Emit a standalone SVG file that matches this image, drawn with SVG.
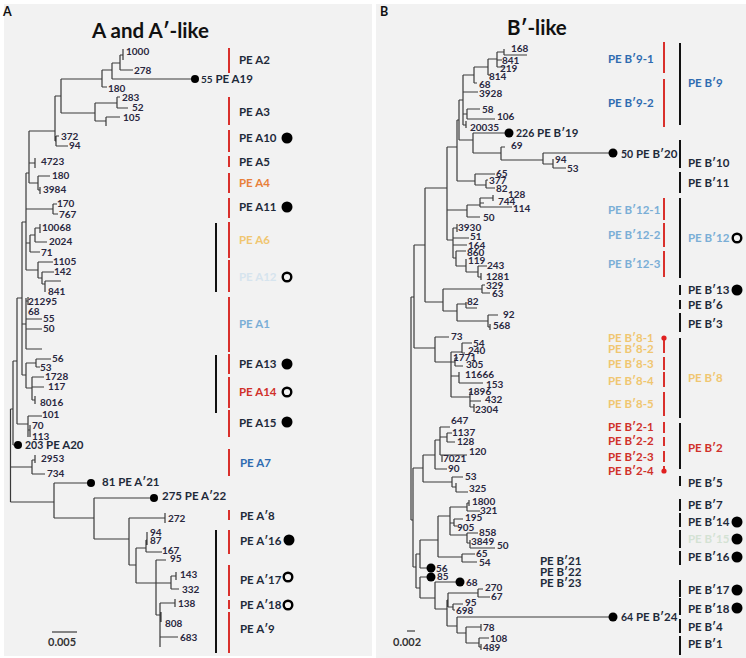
<svg xmlns="http://www.w3.org/2000/svg" width="746" height="658" viewBox="0 0 746 658">
<style>
.bg{fill:#f2f2f2}
.br{fill:none;stroke:#3a3a3a;stroke-width:1.2}
.rb{stroke:#d9302c;stroke-width:2}
.kb{stroke:#111;stroke-width:2}
text{font-family:Lato,"Open Sans","Liberation Sans",sans-serif;font-weight:bold}
.n{font-size:10px;fill:#2a2840}
.l{font-size:11.5px;fill:#1e2a3a}
.t{font-size:20.5px;fill:#111}
.p{font-size:12.5px;fill:#111}
.dot{fill:#000}
.oc{fill:none;stroke:#000;stroke-width:2.4}
.yel{fill:#f0c670}.org{fill:#e8803a}.red{fill:#d0302a}.blu{fill:#2e6bb0}.lbl{fill:#7aaed6}.pbl{fill:#d6e4ee}.pgr{fill:#d4e2d4}
</style>
<rect width="746" height="658" fill="#fff"/>
<rect class="bg" x="4" y="4" width="368" height="652"/>
<rect class="bg" x="376" y="4" width="370" height="654"/>
<text class="p" x="3" y="16">A</text>
<text class="p" x="380" y="16">B</text>
<text class="t" x="92" y="38">A and A′-like</text>
<text class="t" x="507" y="35">B′-like</text>

<g id="connectors-A" class="br">
<path d="M120,55V70M120,55H123M123,49V60M120,70H133M112,63V79M112,63H120M112,79H195M102,70V87M102,70H112M102,87H107M117,97V108M117,97H120M117,108H128M106,117V126M106,117H120M95,103V121M95,103H117M95,121H106M61,79V113M61,79H102M61,113H95M55,96V141M55,96H61M55,141H56M56,136V146M56,136H59M56,146H68"/>
<path d="M29,131V183M29,131H55M29,163H35M35,158V168M29,183H38M38,176V190M38,176H50M38,190H40M40,187V194M26,173V270M26,173H29M26,209H53M53,204V214M53,204H57M53,214H58M26,243H30M30,235V252M30,235H35M35,228V242M35,228H40M40,224V233M35,242H47M30,252H40M26,270H38M38,262V278M38,262H53M38,278H42M42,272V284M42,272H54M42,284H45M45,281V292M45,281H61"/>
<path d="M22,222V375M22,222H26M22,324H26M26,298V349M26,301H28M28,297V305M26,319H42M26,329H42M26,349H42M22,375H26M26,363V388M26,363H36M36,359V367M36,359H51M36,367H40M26,388H32M32,377V400M32,377H44M32,387H44M32,400H35M35,396V404"/>
<path d="M17,298V424M17,298H22M17,424H28M28,416V437M28,416H42M28,430H30M30,425V437M13,361V445M13,361H17M13,445H18M10.5,409V502M10.5,409H13M10.5,467H32M10.5,502H54M32,460V474M32,460H35M35,455V463M32,474H45"/>
<path d="M54,483V518M54,483H91M54,518H94M94,498V539M94,498H154M94,539H129M129,518V565M129,518H165M165,513V523M129,565H136M136,548V583M136,548H146M146,540V552M146,540H147M147,532V545M146,552H162M136,583H156M156,560V615M156,560H166M156,583H171M171,576V589M171,576H176M176,572V580M171,589H179M156,615H160M160,603V647M160,603H175M175,599V607M161,612V622M160,637H178"/>
<path d="M52,632H77"/>
</g>
<g id="dots-A">
<circle class="dot" cx="195" cy="79" r="4"/><circle class="dot" cx="18" cy="445" r="4"/><circle class="dot" cx="91" cy="483" r="4"/><circle class="dot" cx="154" cy="498" r="4"/>
</g>
<g id="leaves-A" class="n">
<text x="126" y="55">1000</text><text x="134" y="74">278</text><text x="108" y="92">180</text><text x="122" y="101">283</text><text x="132" y="111">52</text><text x="123" y="121">105</text>
<text x="61" y="140">372</text><text x="69" y="149">94</text><text x="41" y="165">4723</text><text x="52" y="179">180</text><text x="43" y="193">3984</text><text x="57" y="207">170</text><text x="59" y="218">767</text>
<text x="42" y="231">10068</text><text x="49" y="245">2024</text><text x="41" y="256">71</text><text x="53" y="265">1105</text><text x="54" y="275">142</text><text x="48" y="295">841</text>
<text x="28" y="305">21295</text><text x="28" y="315">68</text><text x="43" y="322">55</text><text x="43" y="332">50</text><text x="52" y="362">56</text><text x="40" y="371">53</text>
<text x="45" y="380">1728</text><text x="48" y="390">117</text><text x="40" y="406">8016</text><text x="42" y="418">101</text><text x="32" y="429">70</text><text x="32" y="440">113</text>
<text x="41" y="462">2953</text><text x="47" y="477">734</text><text x="168" y="522">272</text><text x="150" y="536">94</text><text x="150" y="544">87</text><text x="162" y="554">167</text>
<text x="170" y="562">95</text><text x="180" y="578">143</text><text x="182" y="593">332</text><text x="178" y="607">138</text><text x="165" y="627">808</text><text x="180" y="641">683</text>
<text x="48" y="646" style="font-size:11px;fill:#333">0.005</text>
</g>
<g id="A19"><text class="l" x="201" y="83"><tspan style="font-size:10px">55</tspan> PE A19</text></g>
<g id="A20"><text class="l" x="25" y="449"><tspan style="font-size:10.5px">203</tspan>  PE A20</text></g>
<g id="A21"><text class="l" x="102" y="486">81 PE A′21</text></g>
<g id="A22"><text class="l" x="162" y="500">275 PE A′22</text></g>

<g id="bars-A">
<path class="rb" d="M229,48V73M229,97V125M229,130V152M229,156V167M229,173V193M229,198V218M229,222V258M229,260V292M229,297V352M229,354V374M229,377V408M229,410V437M229,449V476M229,510V520M229,530V554M229,565V596M229,600V609M229,612V653"/>
<path class="kb" d="M216,223V292M216,355V413M216,530V653"/>
</g>
<g id="A2"><text class="l" x="239" y="64">PE A2</text></g>
<g id="A3"><text class="l" x="239" y="116">PE A3</text></g>
<g id="A10"><text class="l" x="239" y="142">PE A10</text><circle class="dot" cx="287" cy="138" r="5.5"/></g>
<g id="A5"><text class="l" x="239" y="166">PE A5</text></g>
<g id="A4"><text class="l org" x="239" y="187">PE A4</text></g>
<g id="A11"><text class="l" x="239" y="211">PE A11</text><circle class="dot" cx="287" cy="207" r="5.5"/></g>
<g id="A6"><text class="l yel" x="239" y="244">PE A6</text></g>
<g id="A12"><text class="l pbl" x="239" y="281">PE A12</text><circle class="oc" cx="287" cy="277" r="4.3"/></g>
<g id="A1"><text class="l lbl" x="239" y="328">PE A1</text></g>
<g id="A13"><text class="l" x="239" y="368">PE A13</text><circle class="dot" cx="287" cy="364" r="5.5"/></g>
<g id="A14"><text class="l red" x="239" y="396">PE A14</text><circle class="oc" cx="287" cy="392" r="4.3"/></g>
<g id="A15"><text class="l" x="239" y="427">PE A15</text><circle class="dot" cx="287" cy="422" r="5.5"/></g>
<g id="A7"><text class="l blu" x="240" y="467">PE A7</text></g>
<g id="A8"><text class="l" x="240" y="520">PE A′8</text></g>
<g id="A16"><text class="l" x="240" y="545">PE A′16</text><circle class="dot" cx="289" cy="540" r="5.5"/></g>
<g id="A17"><text class="l" x="240" y="584">PE A′17</text><circle class="oc" cx="288" cy="577" r="4.3"/></g>
<g id="A18"><text class="l" x="240" y="609">PE A′18</text><circle class="oc" cx="288" cy="605" r="4.3"/></g>
<g id="A9"><text class="l" x="240" y="633">PE A′9</text></g>

<g id="connectors-B" class="br">
<path d="M497,52V67M497,52H504M504,49V55M504,55H527M497,60H502M497,67H505M488,59V75M488,59H497M488,75H490M474,67V83M474,67H488M474,83H477M463,75V125M463,75H474M463,92H478M463,114H467M467,109V119M467,109H480M467,119H495M463,125H466M466,121V128M459,100V140M459,100H463M459,140H473"/>
<path d="M473,133V153M473,133H509M473,153H501M501,147V160M501,147H505M501,160H543M543,153V164M543,153H613M543,164H553M553,159V168M553,168H566"/>
<path d="M457,120V181M457,120H459M457,181H475M475,174V185M475,174H495M475,185H486M486,180V188M486,180H488M486,188H495M447,147V240M447,147H457M447,210H467M467,205V217M467,205H480M480,198V207M480,198H493M493,195V201M480,203H484M480,207H512M467,217H480"/>
<path d="M447,240H453M453,228V258M453,228H457M457,224V232M453,238H469M453,245H467M453,258H456M456,251V266M456,251H466M456,266H466M466,259V272M466,272H478M478,266V277M478,266H487M478,277H481M481,273V280"/>
<path d="M425,188V302M425,188H447M425,302H443M443,289V311M443,289H482M482,285V293M482,285H485M482,293H490M443,311H457M457,304V321M457,304H466M466,302V308M466,308H477M457,321H488M488,315V327M488,315H498M488,327H490M490,324V330"/>
<path d="M414,245V348M414,245H425M414,348H435M435,337V362M435,337H449M435,362H451M451,352V397M451,352H462M462,343V353M462,343H472M462,353H465M451,362H455M455,358V366M455,358H458M455,366H463M451,376H459M459,372V383M459,383H483M451,397H470M470,392V407M470,392H472M470,401H481M470,407H474M474,404V412"/>
<path d="M411,297V520M411,297H414M411,520H413M413,468V567M413,468H423M413,567H416M423,455V482M423,455H435M435,440V469M435,440H440M440,427V455M440,427H450M440,437H447M447,433V442M447,433H452M447,442H455M440,455H467M442,455V462M435,469H447M423,482H452M452,477V487M452,477H463M452,487H456M456,483V492M456,492H468"/>
<path d="M416,554V588M416,554H420M416,588H420M420,540V568M420,540H438M420,568H431M420,577V598M420,577H431M420,598H435"/>
<path d="M438,516V557M438,516H450M450,507V535M450,507H467M467,503V511M467,503H469M469,500V506M467,511H480M450,523H454M454,519V526M454,519H463M454,526H457M450,535H467M467,533V543M467,533H478M467,543H470M470,540V548M470,548H495M438,557H462M462,554V562M462,554H475M462,562H477"/>
<path d="M435,582V609M435,582H460M435,609H447M447,600V626M447,600H448M448,593V607M448,593H478M478,589V597M478,589H483M478,597H490M448,607H453M453,604V610M453,604H463M453,610H455M447,626H457M457,617V633M457,617H613M457,633H466M466,627V643M466,627H481M481,624V631M466,643H479M479,638V647M479,638H489M479,647H481M481,644V650"/>
<path d="M407,631H415"/>
</g>
<g id="dots-B">
<circle class="dot" cx="509" cy="133" r="4.5"/><circle class="dot" cx="613" cy="153" r="4.5"/><circle class="dot" cx="431" cy="568" r="4.5"/><circle class="dot" cx="431" cy="577" r="4.5"/><circle class="dot" cx="460" cy="582" r="4.5"/><circle class="dot" cx="613" cy="617" r="4.5"/>
</g>
<g id="leaves-B" class="n">
<text x="511" y="52">168</text><text x="502" y="64">841</text><text x="500" y="72">219</text><text x="489" y="80">814</text><text x="479" y="88">68</text><text x="479" y="97">3928</text>
<text x="482" y="113">58</text><text x="497" y="120">106</text><text x="470" y="131">20035</text><text x="511" y="149">69</text><text x="555" y="163">94</text><text x="567" y="172">53</text>
<text x="496" y="177">65</text><text x="489" y="184">377</text><text x="496" y="192">82</text><text x="508" y="198">128</text><text x="498" y="205">744</text><text x="513" y="212">114</text><text x="483" y="221">50</text>
<text x="458" y="231">3930</text><text x="470" y="240">51</text><text x="468" y="249">164</text><text x="467" y="256">860</text><text x="468" y="264">119</text><text x="487" y="269">243</text><text x="486" y="280">1281</text>
<text x="486" y="289">329</text><text x="492" y="297">63</text><text x="467" y="305">82</text><text x="503" y="318">92</text><text x="493" y="329">568</text>
<text x="451" y="340">73</text><text x="473" y="347">54</text><text x="468" y="354">240</text><text x="453" y="361">1771</text><text x="466" y="368">305</text><text x="465" y="378">11666</text><text x="486" y="388">153</text>
<text x="468" y="395">1896</text><text x="485" y="403">432</text><text x="475" y="413">2304</text>
<text x="451" y="424">647</text><text x="452" y="436">1137</text><text x="457" y="445">128</text><text x="469" y="455">120</text><text x="443" y="462">7021</text><text x="448" y="472">90</text><text x="465" y="480">53</text><text x="469" y="492">325</text>
<text x="472" y="505">1800</text><text x="480" y="514">321</text><text x="465" y="521">195</text><text x="457" y="531">905</text><text x="479" y="536">858</text><text x="471" y="545">3849</text><text x="497" y="549">50</text>
<text x="476" y="557">65</text><text x="479" y="566">54</text><text x="436" y="572">56</text><text x="437" y="580">85</text><text x="466" y="586">68</text><text x="485" y="591">270</text><text x="491" y="600">67</text>
<text x="465" y="606">95</text><text x="456" y="614">698</text><text x="483" y="631">78</text><text x="490" y="642">108</text><text x="483" y="651">489</text>
<text x="393" y="646" style="font-size:11px;fill:#333">0.002</text>
</g>
<g id="B19"><text class="l" x="516" y="137"><tspan style="font-size:10.5px">226</tspan> PE B′19</text></g>
<g id="B20"><text class="l" x="621" y="158"><tspan style="font-size:10.5px">50</tspan> PE B′20</text></g>
<g id="B24"><text class="l" x="621" y="621"><tspan style="font-size:10.5px">64</tspan> PE B′24</text></g>
<g id="B21-23" class="l"><text x="540" y="565">PE B′21</text><text x="540" y="576">PE B′22</text><text x="540" y="587">PE B′23</text></g>

<g id="bars-B">
<path class="rb" d="M664,42V73M664,79V127M664,198V220M664,223V247M664,251V277M664,338V353M664,357V370M664,372V387M664,392V416M664,422V433M664,437V446M664,451V462M664,466V471"/>
<circle cx="664" cy="338" r="2.6" fill="#e02020"/><circle cx="664" cy="471" r="2.6" fill="#e02020"/>
<path class="kb" d="M680,43V125M680,140V168M680,172V193M680,198V278M680,285V295M680,300V309M680,313V332M680,338V418M680,423V469M680,476V486M680,499V511M680,513V527M680,530V548M680,551V565M680,580V597M680,598V615M680,619V633M680,636V655"/>
</g>
<g id="B9-1"><text class="l blu" x="608" y="63">PE B′9-1</text></g>
<g id="B9-2"><text class="l blu" x="608" y="107">PE B′9-2</text></g>
<g id="B9"><text class="l blu" x="688" y="87">PE B′9</text></g>
<g id="B10"><text class="l" x="688" y="167">PE B′10</text></g>
<g id="B11"><text class="l" x="688" y="187">PE B′11</text></g>
<g id="B12-1"><text class="l lbl" x="608" y="214">PE B′12-1</text></g>
<g id="B12-2"><text class="l lbl" x="608" y="239">PE B′12-2</text></g>
<g id="B12-3"><text class="l lbl" x="608" y="268">PE B′12-3</text></g>
<g id="B12"><text class="l lbl" x="688" y="242">PE B′12</text><circle class="oc" cx="737" cy="238" r="4.3"/></g>
<g id="B13"><text class="l" x="688" y="294">PE B′13</text><circle class="dot" cx="737" cy="290" r="5.5"/></g>
<g id="B6"><text class="l" x="688" y="309">PE B′6</text></g>
<g id="B3"><text class="l" x="688" y="328">PE B′3</text></g>
<g id="B8-sub" class="l yel"><text x="608" y="342">PE B′8-1</text><text x="608" y="353">PE B′8-2</text><text x="608" y="368">PE B′8-3</text><text x="608" y="385">PE B′8-4</text><text x="608" y="408">PE B′8-5</text></g>
<g id="B8"><text class="l yel" x="688" y="382">PE B′8</text></g>
<g id="B2-sub" class="l red"><text x="608" y="431">PE B′2-1</text><text x="608" y="445">PE B′2-2</text><text x="608" y="461">PE B′2-3</text><text x="608" y="475">PE B′2-4</text></g>
<g id="B2"><text class="l red" x="688" y="452">PE B′2</text></g>
<g id="B5"><text class="l" x="688" y="487">PE B′5</text></g>
<g id="B7"><text class="l" x="688" y="509">PE B′7</text></g>
<g id="B14"><text class="l" x="688" y="526">PE B′14</text><circle class="dot" cx="737" cy="522" r="5.5"/></g>
<g id="B15"><text class="l pgr" x="688" y="543">PE B′15</text><circle class="dot" cx="737" cy="539" r="5.5"/></g>
<g id="B16"><text class="l" x="688" y="561">PE B′16</text><circle class="dot" cx="737" cy="557" r="5.5"/></g>
<g id="B17"><text class="l" x="688" y="594">PE B′17</text><circle class="dot" cx="737" cy="590" r="5.5"/></g>
<g id="B18"><text class="l" x="688" y="613">PE B′18</text><circle class="dot" cx="737" cy="608" r="5.5"/></g>
<g id="B4"><text class="l" x="688" y="631">PE B′4</text></g>
<g id="B1"><text class="l" x="688" y="648">PE B′1</text></g>
</svg>
